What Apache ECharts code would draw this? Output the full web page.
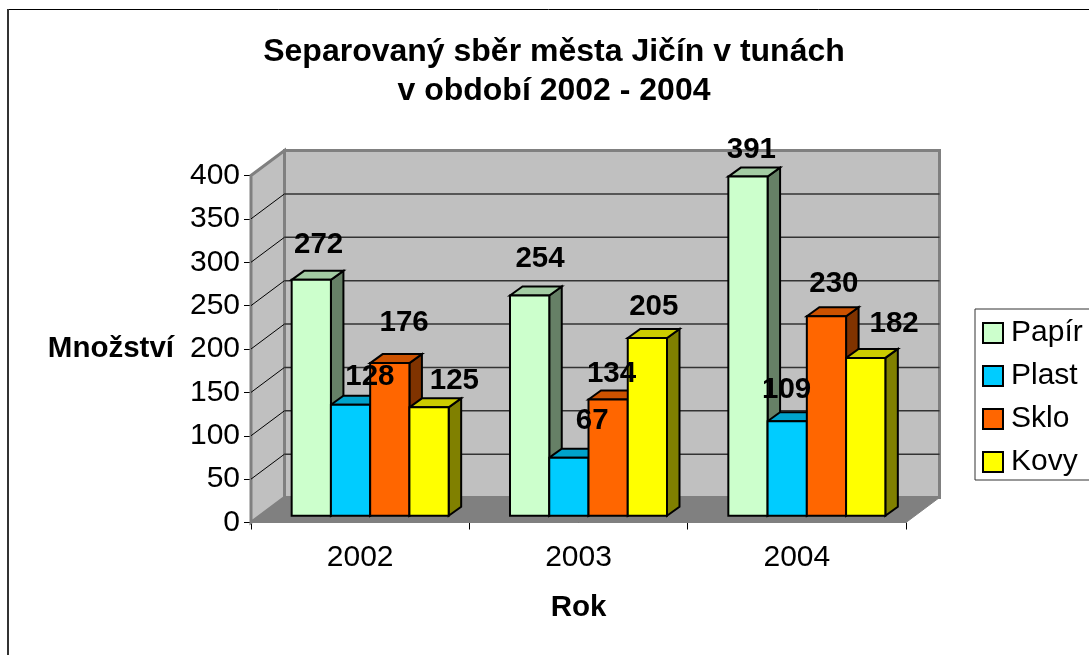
<!DOCTYPE html>
<html>
<head>
<meta charset="utf-8">
<style>html,body{margin:0;padding:0;background:#fff;overflow:hidden}#main{width:1089px;height:655px}</style>
<script src="https://cdn.jsdelivr.net/npm/echarts@6/dist/echarts.min.js"></script>
</head>
<body>
<div id="main"></div>
<script>
const years = ['2002', '2003', '2004'];
const yTicks = [0, 50, 100, 150, 200, 250, 300, 350, 400];
const papir = [272, 254, 391];
const plast = [128, 67, 109];
const sklo = [176, 134, 230];
const kovy = [125, 205, 182];
const seriesNames = ['Papír', 'Plast', 'Sklo', 'Kovy'];
const seriesValues = [papir, plast, sklo, kovy];
const frontColors = ['#CCFFCC', '#00CCFF', '#FF6600', '#FFFF00'];
const topColors = ['#A3CCA3', '#00A3CC', '#CC5200', '#CCCC00'];
const sideColors = ['#668066', '#006680', '#803300', '#808000'];
// label displacement from the bar's front-top-left corner [dx, dy], per series then per year
const labelNudges = [
  [[27, -35], [30, -37], [23, -27]],
  [[39, -28], [43, -37], [19, -31]],
  [[34, -40], [23, -26], [27, -32]],
  [[45, -27], [26, -31], [48, -34]]
];
const FONT = '"Liberation Sans", Arial, sans-serif';

const chart = echarts.init(document.getElementById('main'));
const WALL_DX = 33.5, WALL_DY = -25;
const BAR_W = 39.25, BAR_DX = 12.5, BAR_DY = -9, SHIFT_X = 10, SHIFT_Y = -6.7;

function poly(points, fill, stroke, lw, z2) {
  return {type: 'polygon', shape: {points}, z2: z2 || 0,
    style: {fill: fill, stroke: stroke || 'none', lineWidth: lw || 0, lineJoin: 'miter'}};
}
function line(x1, y1, x2, y2, stroke, lw, z2) {
  return {type: 'line', shape: {x1, y1, x2, y2}, z2: z2 || 1, style: {stroke, lineWidth: lw}};
}

function renderWall(params, api) {
  const tick = api.value(0);
  const cs = params.coordSys;
  const L = cs.x, R = cs.x + cs.width;
  const y = api.coord([0, tick])[1];
  const kids = [];
  if (tick === 0) {
    const top = api.coord([0, yTicks[yTicks.length - 1]])[1];
    kids.push(poly([[L + WALL_DX, top + WALL_DY], [R + WALL_DX, top + WALL_DY], [R + WALL_DX, y + WALL_DY], [L + WALL_DX, y + WALL_DY]], '#C0C0C0', '#808080', 3));
    kids.push(poly([[L, top], [L + WALL_DX, top + WALL_DY], [L + WALL_DX, y + WALL_DY], [L, y]], '#C0C0C0', '#808080', 3));
    kids.push(poly([[L, y], [R, y], [R + WALL_DX, y + WALL_DY], [L + WALL_DX, y + WALL_DY]], '#808080', '#808080', 1));
  } else if (tick !== yTicks[yTicks.length - 1]) {
    kids.push(line(L, y, L + WALL_DX, y + WALL_DY, '#000', 1));
    kids.push(line(L + WALL_DX, y + WALL_DY, R + WALL_DX, y + WALL_DY, '#333', 1.5));
  }
  return {type: 'group', children: kids};
}

function barRenderer(k) {
  return function (params, api) {
    const i = api.value(0), v = api.value(1);
    const base = api.coord([i, 0]);
    const topY = api.coord([i, v])[1] + SHIFT_Y;
    const botY = base[1] + SHIFT_Y;
    const x0 = base[0] + SHIFT_X + (k - 2) * BAR_W;
    const x1 = x0 + BAR_W;
    const nudge = labelNudges[k][i];
    return {type: 'group', children: [
      poly([[x1, botY], [x1 + BAR_DX, botY + BAR_DY], [x1 + BAR_DX, topY + BAR_DY], [x1, topY]], sideColors[k], '#000', 2, 10),
      poly([[x0, topY], [x0 + BAR_DX, topY + BAR_DY], [x1 + BAR_DX, topY + BAR_DY], [x1, topY]], topColors[k], '#000', 2, 10),
      poly([[x0, topY], [x1, topY], [x1, botY], [x0, botY]], frontColors[k], '#000', 2, 11),
      {type: 'text', z2: 100, x: x0 + nudge[0], y: topY + nudge[1],
        style: {text: String(v), fill: '#000', font: 'bold 29.5px ' + FONT, align: 'center', verticalAlign: 'middle'}}
    ]};
  };
}

const series = [{
  type: 'custom', name: 'wall', silent: true, clip: false, z: 1,
  renderItem: renderWall,
  data: yTicks.map(t => [t]),
  encode: {y: 0}
}];
seriesNames.forEach((name, k) => {
  series.push({
    type: 'custom', name, clip: false, z: 2,
    itemStyle: {color: frontColors[k]},
    renderItem: barRenderer(k),
    data: seriesValues[k].map((v, i) => [i, v]),
    encode: {x: 0, y: 1}
  });
});

chart.setOption({
  animation: false,
  backgroundColor: '#fff',
  textStyle: {fontFamily: FONT},
  title: {
    text: 'Separovaný sběr města Jičín v tunách\nv období 2002 - 2004',
    left: 549, top: 28, textAlign: 'center',
    textStyle: {fontSize: 32, fontWeight: 'bold', color: '#000', lineHeight: 39, fontFamily: FONT}
  },
  grid: {left: 251, right: 183, top: 175.5, bottom: 132.5, containLabel: false},
  legend: {
    orient: 'vertical', left: 975, top: 309, data: seriesNames, icon: 'rect',
    itemWidth: 20, itemHeight: 20, itemGap: 13,
    padding: [9, 60, 3, 7],
    borderColor: '#333', borderWidth: 1, backgroundColor: '#fff',
    itemStyle: {borderColor: '#000', borderWidth: 2},
    textStyle: {fontSize: 30, color: '#000', fontFamily: FONT, padding: [0, 0, 0, 3]}
  },
  xAxis: {
    type: 'category', data: years, boundaryGap: true,
    name: 'Rok', nameLocation: 'middle', nameGap: 70,
    nameTextStyle: {fontSize: 29.5, fontWeight: 'bold', color: '#000', fontFamily: FONT},
    axisLine: {show: true, lineStyle: {color: '#000', width: 1}},
    axisTick: {show: true, alignWithLabel: false, length: 7, lineStyle: {color: '#000'}},
    axisLabel: {fontSize: 30, color: '#000', margin: 20, fontFamily: FONT},
    splitLine: {show: false}
  },
  yAxis: {
    type: 'value', min: 0, max: 400, interval: 50,
    name: 'Množství', nameLocation: 'middle', nameRotate: 0, nameGap: 77,
    nameTextStyle: {fontSize: 29.5, fontWeight: 'bold', color: '#000', fontFamily: FONT},
    axisLine: {show: true, lineStyle: {color: '#000', width: 1}},
    axisTick: {show: true, length: 7, lineStyle: {color: '#000'}},
    axisLabel: {fontSize: 30, color: '#000', margin: 11, fontFamily: FONT, padding: [2, 0, 0, 0]},
    splitLine: {show: false}
  },
  graphic: [
    {type: 'line', shape: {x1: 8, y1: 9.5, x2: 1089, y2: 9.5}, style: {stroke: '#000', lineWidth: 1}, silent: true},
    {type: 'line', shape: {x1: 8, y1: 9, x2: 8, y2: 655}, style: {stroke: '#333', lineWidth: 2}, silent: true}
  ],
  series
});
</script>
</body>
</html>
